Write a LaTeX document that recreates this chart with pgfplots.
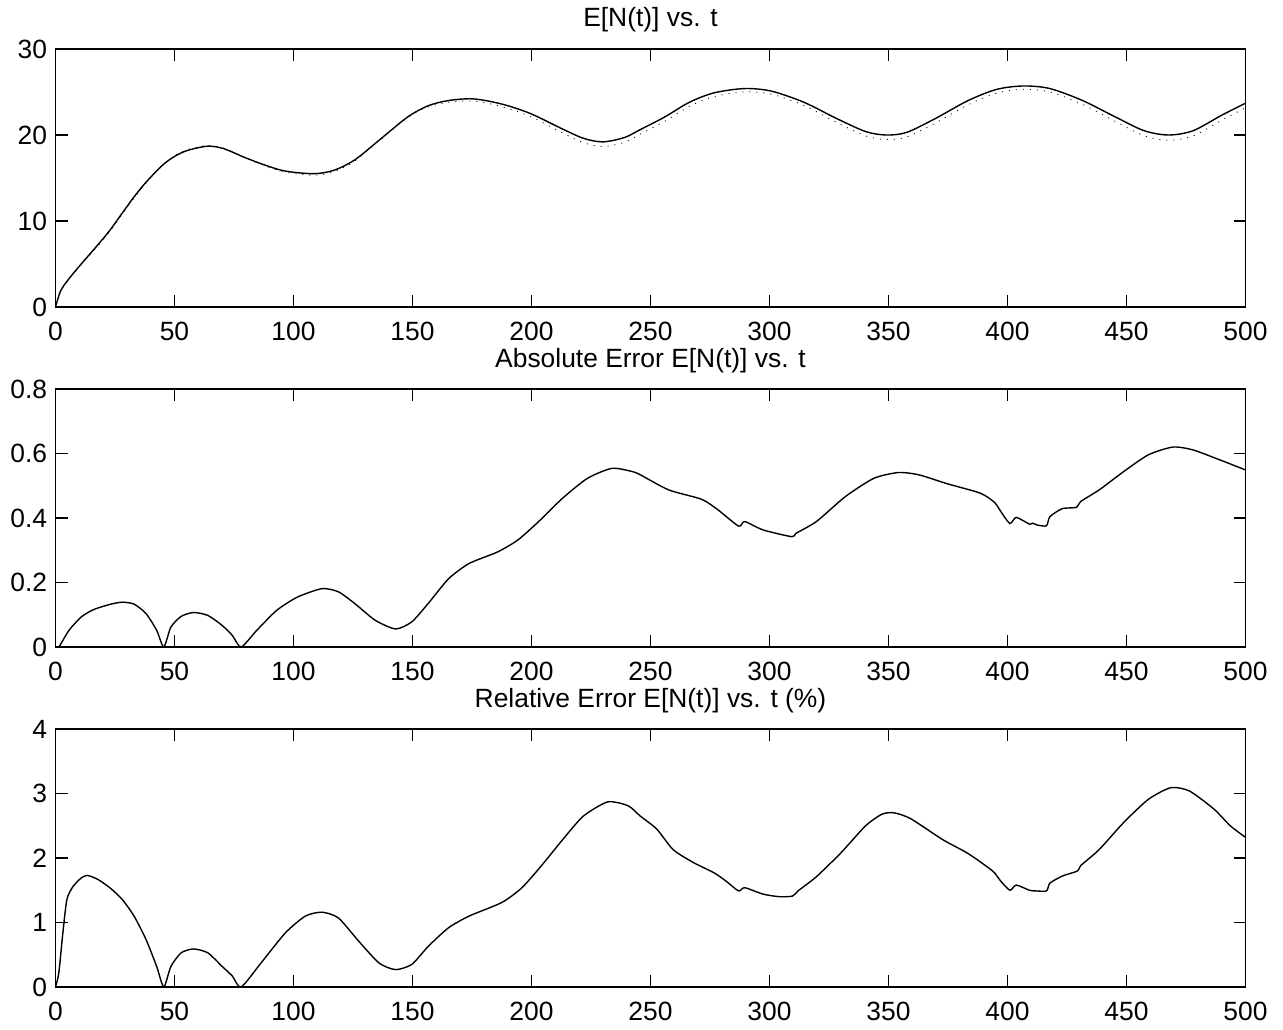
\documentclass[border=0pt]{standalone}
\usepackage{fontspec}
\setmainfont{Liberation Sans}
\usepackage{pgfplots}
\pgfplotsset{compat=1.18}
\pgfplotsset{
  mstyle/.style={
    scale only axis, width=595pt, height=129pt,
    anchor=south west,
    xmin=0, xmax=500, xtick={0,50,...,500},
    tick align=inside, xtick pos=both, ytick pos=both,
    major tick length=6pt,
    axis line style={line width=0.9pt, black},
    tick style={line width=0.6pt, black},
    font=\fontsize{13.2}{15.5}\selectfont,
    /pgf/number format/assume math mode=true,
    every axis title shift=0pt,
    title style={at={(0.5,1)}, anchor=base, yshift=11pt, inner sep=0pt},
    xticklabel style={inner sep=0pt, anchor=north, yshift=-7.5pt},
    yticklabel style={inner sep=0pt, anchor=east, xshift=-4pt},
    every axis plot/.append style={line width=0.7pt, black},
  }
}
\pgfplotstableread{
t E
0 0
2.2 1.9
5.7 3.3
10.8 5.0
17.7 7.2
22.8 8.9
28 10.9
33 12.8
38 14.5
45 16.5
50 17.5
55.4 18.2
64 18.7
70.8 18.4
79.4 17.4
88 16.5
96.6 15.8
108.6 15.5
117 15.9
125.7 17.1
136 19.4
148 22.1
156.6 23.4
165 24.0
175.5 24.2
187.5 23.6
199.5 22.5
213 20.7
222 19.6
230 19.2
239 19.7
245.5 20.6
256 22.1
266.3 23.8
276.7 24.9
289.6 25.4
300.8 25.1
314.5 23.8
328.3 21.9
340.4 20.4
349 20.0
357.6 20.3
369.6 21.9
383.4 24.0
395.4 25.3
406.6 25.7
417.8 25.4
431.6 24.0
445.3 22.1
457.4 20.5
467.7 20.0
478 20.5
490 22.3
500 23.7
}\tabE
\pgfplotstableread{
t A
0 0
2.2 1.88
5.7 3.25
10.8 4.91
17.7 7.08
22.8 8.77
28 10.76
33 12.67
38 14.40
45 16.50
50 17.58
55.4 18.30
64 18.80
70.8 18.46
79.4 17.38
88 16.42
96.6 15.67
108.6 15.32
117 15.73
125.7 16.97
136 19.33
148 22.04
156.6 23.27
165 23.79
175.5 23.94
187.5 23.30
199.5 22.15
213 20.24
222 19.09
230 18.65
239 19.15
245.5 20.07
256 21.60
266.3 23.33
276.7 24.47
289.6 25.01
300.8 24.74
314.5 23.43
328.3 21.45
340.4 19.89
349 19.47
357.6 19.76
369.6 21.38
383.4 23.51
395.4 24.86
406.6 25.31
417.8 25.00
431.6 23.55
445.3 21.58
457.4 19.91
467.7 19.38
478 19.89
490 21.72
500 23.15
}\tabApprox
\pgfplotstableread{
t err
0 0
1.4 0.0
5.7 0.052
10.8 0.093
16 0.116
22.8 0.132
28 0.139
33 0.133
38 0.104
42.5 0.052
45.5 0.0
48.5 0.062
52.8 0.095
58 0.107
64 0.098
70 0.067
74.3 0.036
78 0.0
84.6 0.052
93 0.114
101.7 0.155
112 0.181
118.9 0.171
125.7 0.135
134.3 0.083
142.9 0.056
149.7 0.078
156.6 0.135
165.2 0.212
173.8 0.259
185.8 0.295
194.3 0.332
203 0.389
213 0.461
223.5 0.523
233.8 0.554
242.4 0.544
245.7 0.534
257.7 0.487
271.5 0.458
278.4 0.425
287 0.375
289.6 0.389
297.3 0.363
309.4 0.342
311 0.352
319.7 0.389
331.8 0.466
343.8 0.523
354.1 0.541
362.7 0.534
374.8 0.506
388.6 0.477
394.6 0.448
397.2 0.42
401 0.383
403.7 0.402
409.2 0.381
410.5 0.384
412.6 0.378
416.4 0.376
417.8 0.404
423 0.429
429 0.433
430.7 0.451
438.5 0.487
448.8 0.544
459.2 0.596
469.5 0.620
478 0.611
490 0.578
500 0.549
}\tabAbs
\pgfplotstableread{
t rel
0 0
1.4 0.22
3.1 0.84
4.8 1.36
7.4 1.56
10.8 1.69
13.4 1.73
17.7 1.67
22.8 1.54
28 1.36
33 1.10
38 0.74
42.5 0.32
45.5 0.0
48.5 0.32
52.8 0.53
58 0.59
64 0.53
70 0.32
74.3 0.17
78 0.0
86.3 0.37
96.6 0.84
105 1.10
112 1.16
118.9 1.07
127.4 0.71
136 0.37
142.9 0.27
149.7 0.35
156.6 0.63
165.2 0.92
173.8 1.10
187.5 1.31
196 1.54
204.6 1.90
213.2 2.29
221.8 2.65
232 2.87
240.6 2.81
245.7 2.65
252.6 2.45
259.5 2.13
268 1.93
276.7 1.77
281.8 1.64
287 1.49
289.6 1.54
297.3 1.44
304.2 1.40
309.7 1.41
312 1.49
319.7 1.71
330 2.08
340.4 2.50
347.3 2.68
352.4 2.70
359.3 2.61
373 2.28
383.4 2.07
393.7 1.80
397.2 1.64
401 1.50
403.7 1.58
409.2 1.50
411.8 1.49
416.4 1.49
417.8 1.61
423 1.72
429.5 1.80
430.7 1.88
438.5 2.13
448.8 2.55
459.2 2.91
468.6 3.09
476.4 3.04
486.7 2.76
493.6 2.50
500 2.32
}\tabRel
\begin{document}
\begin{tikzpicture}
\path[use as bounding box] (0,0) rectangle (641.5pt,514.5pt);
\begin{axis}[mstyle, at={(27.75pt,361pt)},
  ymin=0, ymax=30, ytick={0,10,20,30},
  title={E[N(t)] vs. t}]
  \addplot[smooth, tension=0.5, line width=0.4pt, dash pattern=on 0.5pt off 3pt] table[x=t,y=A] {\tabApprox};
  \addplot[smooth, tension=0.5] table[x=t,y=E] {\tabE};
\end{axis}
\begin{axis}[mstyle, at={(27.75pt,191pt)},
  ymin=0, ymax=0.8, ytick={0,0.2,0.4,0.6,0.8},
  title={Absolute Error E[N(t)] vs. t}]
  \addplot[smooth, tension=0.4] table[x=t,y=err] {\tabAbs};
\end{axis}
\begin{axis}[mstyle, at={(27.75pt,21pt)},
  ymin=0, ymax=4, ytick={0,1,2,3,4},
  title={Relative Error E[N(t)] vs. t (\%)}]
  \addplot[smooth, tension=0.4] table[x=t,y=rel] {\tabRel};
\end{axis}
\end{tikzpicture}
\end{document}
